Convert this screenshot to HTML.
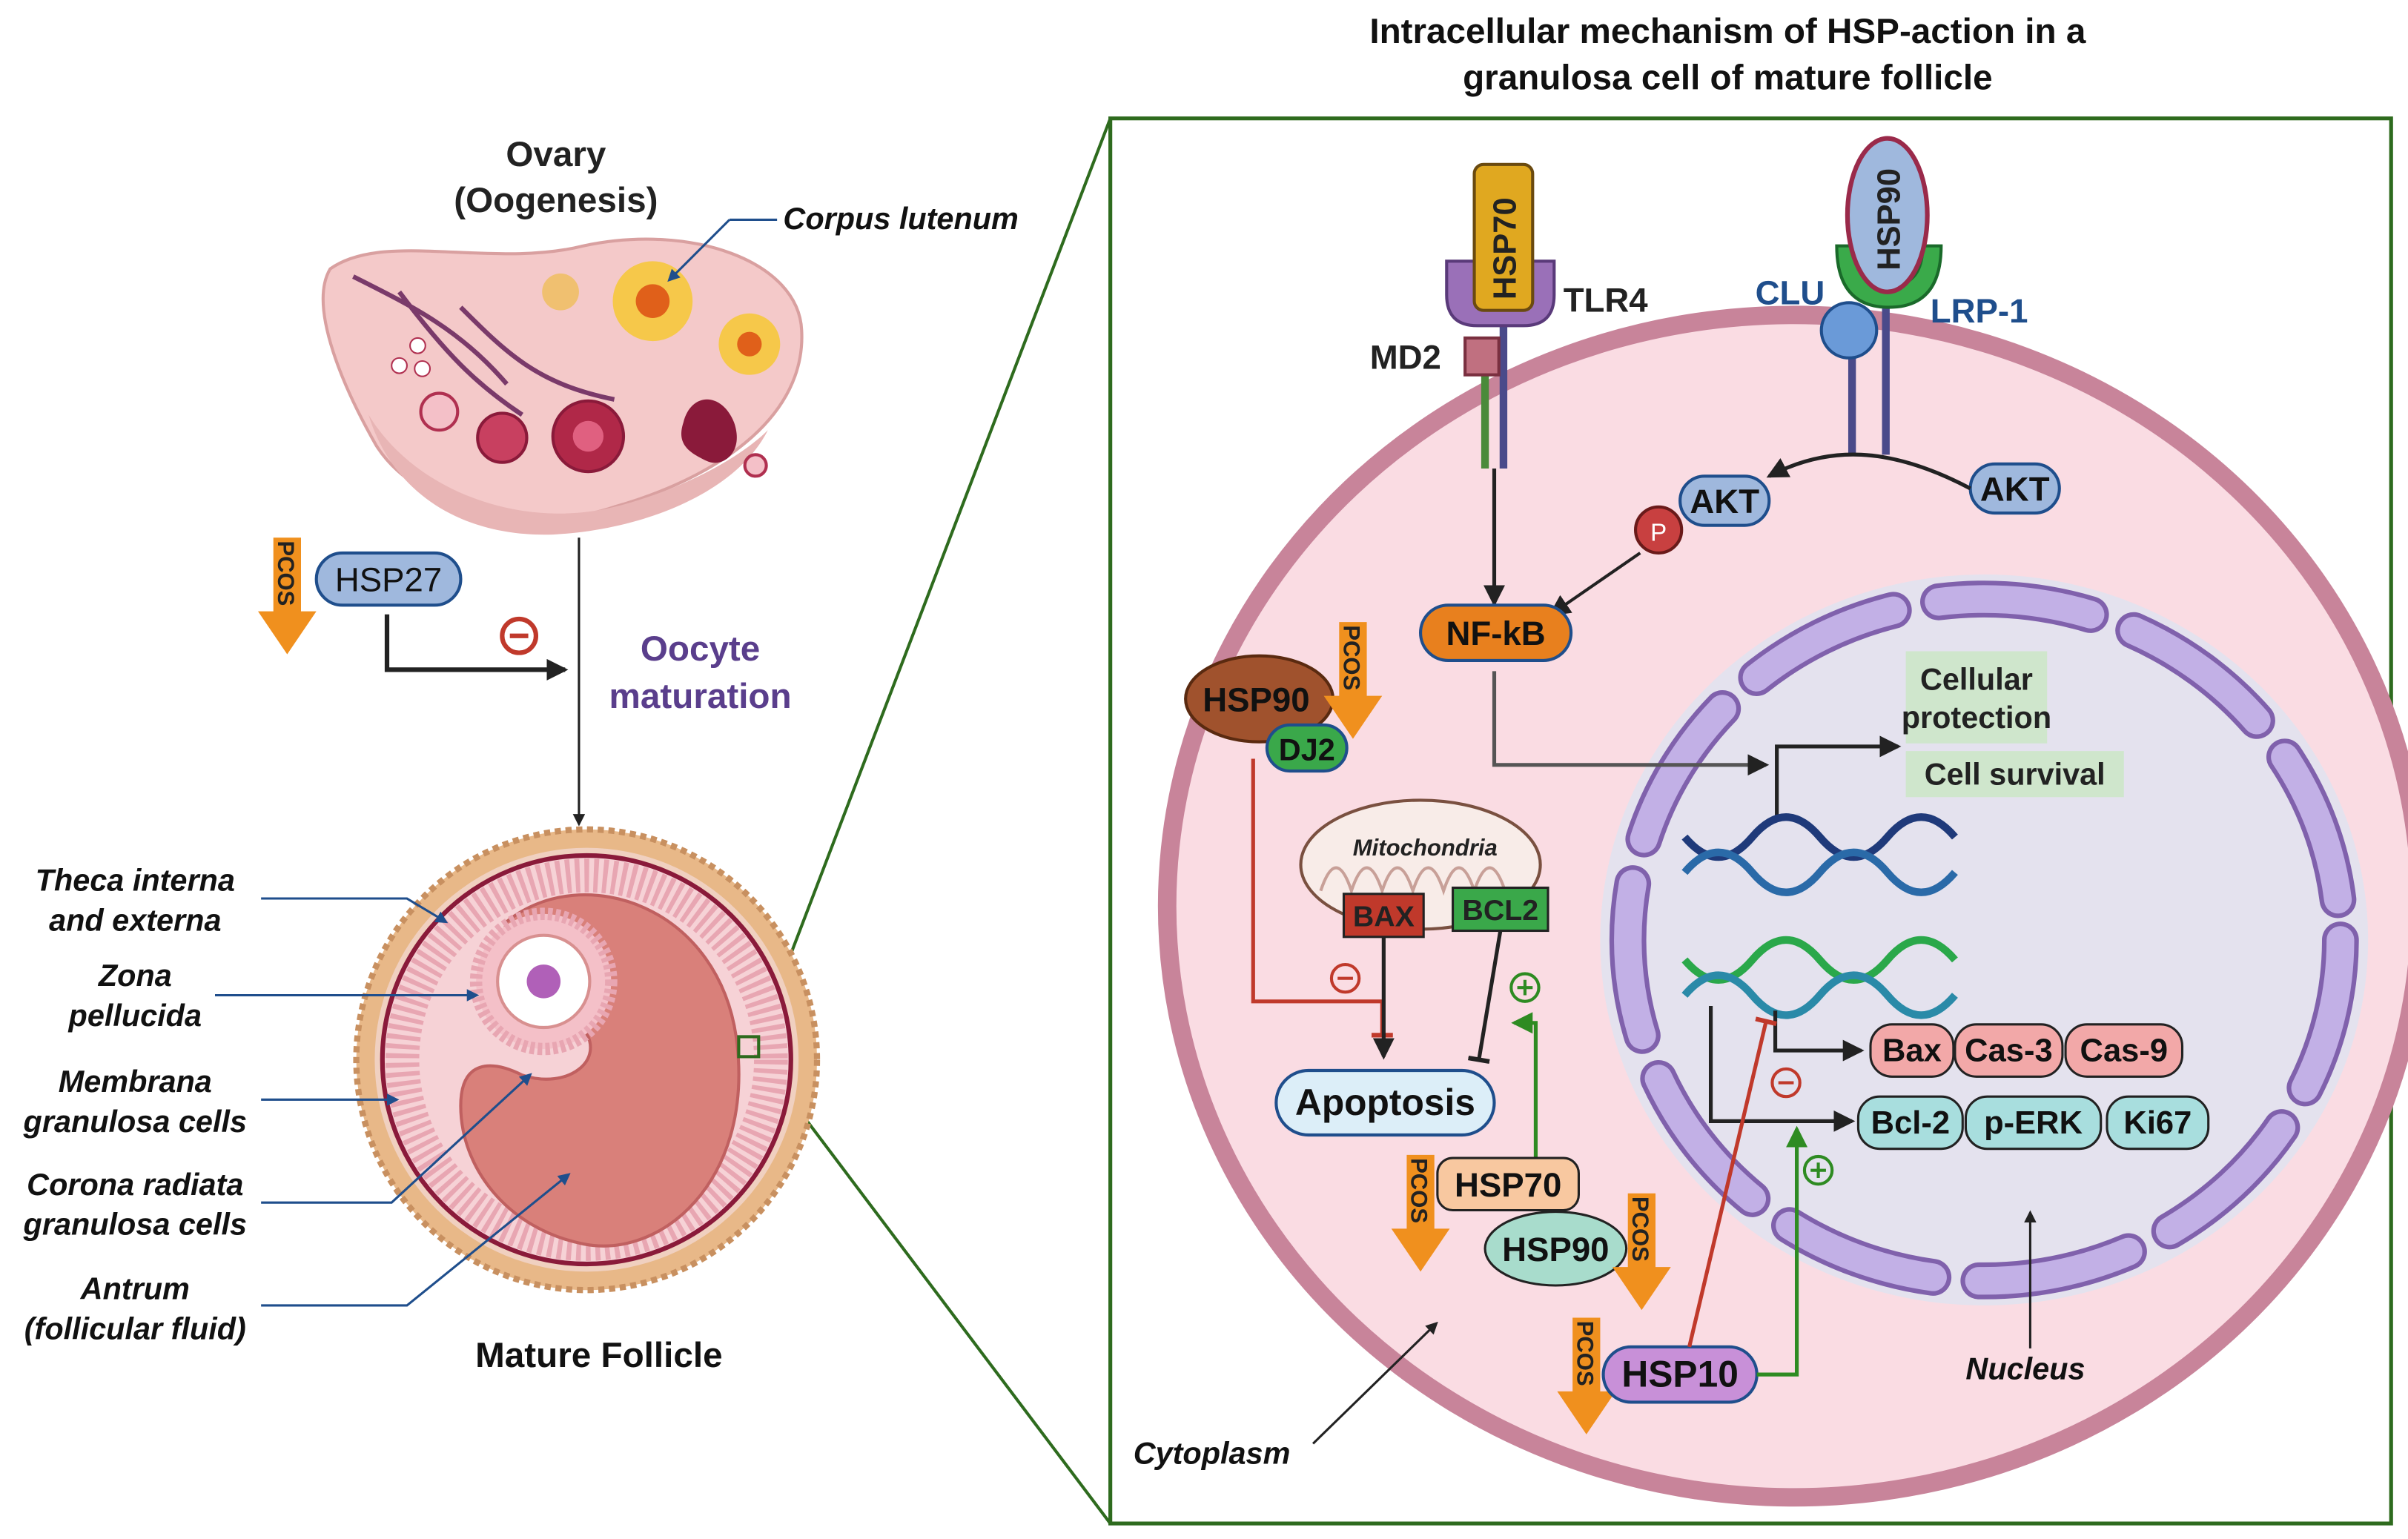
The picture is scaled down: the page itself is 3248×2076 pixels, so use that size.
<!DOCTYPE html>
<html><head><meta charset="utf-8"><style>
html,body{margin:0;padding:0;background:#fff}
svg{display:block}
text{font-family:"Liberation Sans",sans-serif;font-weight:bold}
</style></head><body>
<svg width="3248" height="2076" viewBox="0 0 1568 1002" xmlns="http://www.w3.org/2000/svg">
<defs>
<marker id="ab" markerWidth="8" markerHeight="8" refX="6" refY="4" orient="auto" markerUnits="userSpaceOnUse"><path d="M0,0 L8,4 L0,8 z" fill="#222"/></marker>
<marker id="abB" markerWidth="14" markerHeight="14" refX="12" refY="7" orient="auto" markerUnits="userSpaceOnUse"><path d="M0,0 L14,7 L0,14 z" fill="#222"/></marker>
<marker id="abG" markerWidth="14" markerHeight="14" refX="12" refY="7" orient="auto" markerUnits="userSpaceOnUse"><path d="M0,0 L14,7 L0,14 z" fill="#2e8b22"/></marker>
<marker id="tR" markerWidth="14" markerHeight="14" refX="7" refY="7" orient="auto" markerUnits="userSpaceOnUse"><path d="M7,0 L7,14" stroke="#c0392b" stroke-width="3"/></marker>
<marker id="tB" markerWidth="14" markerHeight="14" refX="7" refY="7" orient="auto" markerUnits="userSpaceOnUse"><path d="M7,0 L7,14" stroke="#222" stroke-width="3"/></marker>
<marker id="abT" markerWidth="8" markerHeight="8" refX="6" refY="4" orient="auto" markerUnits="userSpaceOnUse"><path d="M0,0 L8,4 L0,8 z" fill="#1f4e8c"/></marker>
</defs>

<text x="1125" y="28" font-size="23" text-anchor="middle" fill="#111">Intracellular mechanism of HSP-action in a</text>
<text x="1125" y="58" font-size="23" text-anchor="middle" fill="#111">granulosa cell of mature follicle</text>

<rect x="723" y="77" width="834" height="915" fill="none" stroke="#2e6b1e" stroke-width="2.5"/>
<line x1="494" y1="676" x2="723" y2="77" stroke="#2e6b1e" stroke-width="2"/>
<line x1="494" y1="688" x2="723" y2="992" stroke="#2e6b1e" stroke-width="2"/>

<text x="362" y="108" font-size="23" text-anchor="middle" fill="#222">Ovary</text>
<text x="362" y="138" font-size="23" text-anchor="middle" fill="#222">(Oogenesis)</text>
<path d="M215,175 C250,150 320,175 380,160 C450,145 520,170 522,215 C525,270 470,310 400,330 C340,350 270,330 245,290 C225,255 200,200 215,175z" fill="#f4c9c9" stroke="#d9a0a0" stroke-width="2"/>
<path d="M240,270 C270,320 340,345 400,330 C440,320 480,300 500,280 C480,320 420,345 360,348 C300,350 255,320 240,270z" fill="#e8b5b5"/>
<path d="M230,180 C270,200 300,215 330,250 M260,190 C290,230 310,250 340,270 M300,200 C330,230 350,250 400,260" stroke="#7a3a6a" stroke-width="3" fill="none"/>
<circle cx="425" cy="196" r="26" fill="#f6c84a"/><circle cx="425" cy="196" r="11" fill="#e0601a"/>
<circle cx="488" cy="224" r="20" fill="#f6c84a"/><circle cx="488" cy="224" r="8" fill="#e0601a"/>
<circle cx="365" cy="190" r="12" fill="#f0c070"/>
<circle cx="286" cy="268" r="12" fill="#f4c0c8" stroke="#b03050" stroke-width="2"/>
<circle cx="327" cy="285" r="16" fill="#c84060" stroke="#8a1a3a" stroke-width="2"/>
<circle cx="383" cy="284" r="23" fill="#b02848" stroke="#8a1a3a" stroke-width="2"/>
<circle cx="383" cy="284" r="10" fill="#e06080"/>
<path d="M445,275 C450,255 470,255 478,275 C485,295 470,305 460,300 C450,295 440,290 445,275z" fill="#8a1a3a"/>
<circle cx="492" cy="303" r="7" fill="#f4c0c8" stroke="#b03050" stroke-width="2"/>
<circle cx="260" cy="238" r="5" fill="#fff" stroke="#b03050"/><circle cx="272" cy="225" r="5" fill="#fff" stroke="#b03050"/><circle cx="275" cy="240" r="5" fill="#fff" stroke="#b03050"/>
<text x="510" y="149" font-size="20" font-style="italic" fill="#111">Corpus lutenum</text>
<line x1="506" y1="143" x2="475" y2="143" stroke="#1f4e8c" stroke-width="1.5"/>
<line x1="475" y1="143" x2="436" y2="182" stroke="#1f4e8c" stroke-width="1.5" marker-end="url(#abT)"/>

<path d="M178,350 h18 v48 h10 l-19,28 l-19,-28 h10 z" fill="#f0901e"/>
<text transform="translate(181,352) rotate(90)" font-size="15" fill="#222">PCOS</text>
<rect x="206" y="360" width="94" height="34" rx="17" fill="#9fb8dd" stroke="#1f4e8c" stroke-width="2"/>
<text x="253" y="385" font-size="22" text-anchor="middle" fill="#111" style="font-weight:normal">HSP27</text>
<path d="M252,400 V436 H368" stroke="#222" stroke-width="3" fill="none" marker-end="url(#abB)"/>
<circle cx="338" cy="414" r="11" fill="none" stroke="#c0392b" stroke-width="3"/><line x1="332" y1="414" x2="344" y2="414" stroke="#c0392b" stroke-width="3"/>
<line x1="377" y1="350" x2="377" y2="536" stroke="#222" stroke-width="1.5" marker-end="url(#ab)"/>
<text x="456" y="430" font-size="23" text-anchor="middle" fill="#5a3e8c">Oocyte</text>
<text x="456" y="461" font-size="23" text-anchor="middle" fill="#5a3e8c">maturation</text>

<circle cx="382" cy="690" r="150" fill="#e8b888" stroke="#c89060" stroke-width="4" stroke-dasharray="4 3"/>
<circle cx="382" cy="690" r="138" fill="#f0d0c0"/>
<circle cx="382" cy="690" r="133" fill="#f6d2d6" stroke="#8a1a3a" stroke-width="3"/>
<circle cx="382" cy="690" r="120" fill="none" stroke="#e8a6b2" stroke-width="22" stroke-dasharray="3 3"/>
<path d="M330,600 C380,560 470,590 480,680 C490,770 430,820 380,810 C330,800 300,760 300,720 C300,690 320,690 340,700 C370,710 395,690 380,670 C360,640 320,630 330,600z" fill="#d9807a" stroke="#c06060" stroke-width="2"/>
<circle cx="354" cy="639" r="44" fill="#f4c0c8" stroke="#e8a6b2" stroke-width="8" stroke-dasharray="3 2"/>
<circle cx="354" cy="639" r="30" fill="#fff" stroke="#d89090" stroke-width="2"/>
<circle cx="354" cy="639" r="11" fill="#b060b8"/>
<text x="390" y="890" font-size="23" text-anchor="middle" fill="#111">Mature Follicle</text>
<rect x="481" y="675" width="13" height="13" fill="none" stroke="#2e6b1e" stroke-width="2"/>

<g font-size="20" font-style="italic" fill="#111" text-anchor="middle">
<text x="88" y="580">Theca interna</text><text x="88" y="606">and externa</text>
<text x="88" y="642">Zona</text><text x="88" y="668">pellucida</text>
<text x="88" y="711">Membrana</text><text x="88" y="737">granulosa cells</text>
<text x="88" y="778">Corona radiata</text><text x="88" y="804">granulosa cells</text>
<text x="88" y="846">Antrum</text><text x="88" y="872">(follicular fluid)</text>
</g>
<g stroke="#1f4e8c" stroke-width="1.5" fill="none">
<path d="M170,585 H265 L290,600" marker-end="url(#abT)"/>
<path d="M140,648 H310" marker-end="url(#abT)"/>
<path d="M170,716 H258" marker-end="url(#abT)"/>
<path d="M170,783 H255 L345,700" marker-end="url(#abT)"/>
<path d="M170,850 H265 L370,765" marker-end="url(#abT)"/>
</g>

<ellipse cx="1168" cy="590" rx="408" ry="385" fill="#fadce3" stroke="#c8849a" stroke-width="12"/>
<ellipse cx="1292" cy="612" rx="250" ry="238" fill="#e4e2ee"/>
<ellipse cx="1292" cy="612" rx="232" ry="222" fill="none" stroke="#7a5aa8" stroke-width="24" stroke-dasharray="100 30" stroke-linecap="round" opacity="0.95"/>
<ellipse cx="1292" cy="612" rx="232" ry="222" fill="none" stroke="#c2b0e6" stroke-width="18" stroke-dasharray="100 30" stroke-linecap="round"/>

<line x1="967" y1="230" x2="967" y2="305" stroke="#4a8a3a" stroke-width="5"/>
<line x1="979" y1="200" x2="979" y2="305" stroke="#4a4a8a" stroke-width="5"/>
<path d="M942,170 h70 v22 q0,20 -20,20 h-30 q-20,0 -20,-20z" fill="#9a70b8" stroke="#5a3a7a" stroke-width="2"/>
<rect x="960" y="107" width="38" height="95" rx="6" fill="#e0a820" stroke="#6a4a10" stroke-width="2"/>
<text transform="translate(987,195) rotate(-90)" font-size="21" fill="#222">HSP70</text>
<rect x="954" y="220" width="22" height="24" fill="#c07080" stroke="#7a3040" stroke-width="2"/>
<text x="1018" y="203" font-size="22" fill="#222">TLR4</text>
<text x="892" y="240" font-size="22" fill="#222">MD2</text>

<line x1="1206" y1="230" x2="1206" y2="296" stroke="#4a4a8a" stroke-width="5"/>
<line x1="1228" y1="190" x2="1228" y2="296" stroke="#4a4a8a" stroke-width="5"/>
<path d="M1196,160 q0,40 34,40 q34,0 34,-40 h-12 q0,26 -22,26 q-22,0 -22,-26z" fill="#3aaa4a" stroke="#1a6a2a" stroke-width="2"/>
<ellipse cx="1229" cy="140" rx="26" ry="50" fill="#9fb8dd" stroke="#9a2a4a" stroke-width="3"/>
<text transform="translate(1237,176) rotate(-90)" font-size="21" fill="#222">HSP90</text>
<circle cx="1204" cy="215" r="18" fill="#6a9ad8" stroke="#1f4e8c" stroke-width="2"/>
<text x="1143" y="198" font-size="22" fill="#1f4e8c">CLU</text>
<text x="1257" y="210" font-size="22" fill="#1f4e8c">LRP-1</text>

<rect x="1283" y="302" width="58" height="32" rx="16" fill="#9fb8dd" stroke="#1f4e8c" stroke-width="2"/>
<text x="1312" y="326" font-size="22" text-anchor="middle" fill="#111">AKT</text>
<rect x="1094" y="310" width="58" height="32" rx="16" fill="#9fb8dd" stroke="#1f4e8c" stroke-width="2"/>
<text x="1123" y="334" font-size="22" text-anchor="middle" fill="#111">AKT</text>
<path d="M1283,318 C1230,290 1190,290 1152,310" stroke="#222" stroke-width="2.5" fill="none" marker-end="url(#abB)"/>
<circle cx="1080" cy="345" r="15" fill="#c84040" stroke="#6a1a1a" stroke-width="2"/>
<text x="1080" y="352" font-size="16" text-anchor="middle" fill="#fff" style="font-weight:normal">P</text>
<line x1="1068" y1="360" x2="1010" y2="400" stroke="#222" stroke-width="2" marker-end="url(#abB)"/>
<line x1="973" y1="305" x2="973" y2="393" stroke="#222" stroke-width="2.5" marker-end="url(#abB)"/>

<rect x="925" y="394" width="98" height="36" rx="18" fill="#e8801e" stroke="#1f4e8c" stroke-width="2"/>
<text x="974" y="420" font-size="22" text-anchor="middle" fill="#111">NF-kB</text>
<path d="M973,437 V498 H1150" stroke="#555" stroke-width="2.5" fill="none" marker-end="url(#abB)"/>
<path d="M1157,535 V486 H1236" stroke="#222" stroke-width="2.5" fill="none" marker-end="url(#abB)"/>
<rect x="1241" y="424" width="92" height="60" fill="#cfe6cc"/>
<text x="1287" y="449" font-size="20" text-anchor="middle" fill="#222">Cellular</text>
<text x="1287" y="474" font-size="20" text-anchor="middle" fill="#222">protection</text>
<rect x="1241" y="489" width="142" height="30" fill="#cfe6cc"/>
<text x="1312" y="511" font-size="20" text-anchor="middle" fill="#222">Cell survival</text>

<path d="M1097,545 q22,26 44,0 t44,0 t44,0 t44,0" stroke="#1f3a7a" stroke-width="5" fill="none"/>
<path d="M1097,568 q22,-26 44,0 t44,0 t44,0 t44,0" stroke="#2a6aa8" stroke-width="5" fill="none"/>
<path d="M1097,625 q22,26 44,0 t44,0 t44,0 t44,0" stroke="#2aa84a" stroke-width="5" fill="none"/>
<path d="M1097,648 q22,-26 44,0 t44,0 t44,0 t44,0" stroke="#2a8aa8" stroke-width="5" fill="none"/>

<path d="M1156,658 V684 H1212" stroke="#222" stroke-width="2.5" fill="none" marker-end="url(#abB)"/>
<path d="M1114,655 V730 H1206" stroke="#222" stroke-width="2.5" fill="none" marker-end="url(#abB)"/>
<g font-size="21" text-anchor="middle" fill="#111">
<rect x="1218" y="667" width="54" height="34" rx="14" fill="#f2a8a8" stroke="#222" stroke-width="1.5"/><text x="1245" y="691">Bax</text>
<rect x="1273" y="667" width="70" height="34" rx="14" fill="#f2a8a8" stroke="#222" stroke-width="1.5"/><text x="1308" y="691">Cas-3</text>
<rect x="1345" y="667" width="76" height="34" rx="14" fill="#f2a8a8" stroke="#222" stroke-width="1.5"/><text x="1383" y="691">Cas-9</text>
<rect x="1210" y="714" width="68" height="34" rx="14" fill="#a8dede" stroke="#222" stroke-width="1.5"/><text x="1244" y="738">Bcl-2</text>
<rect x="1280" y="714" width="88" height="34" rx="14" fill="#a8dede" stroke="#222" stroke-width="1.5"/><text x="1324" y="738">p-ERK</text>
<rect x="1372" y="714" width="66" height="34" rx="14" fill="#a8dede" stroke="#222" stroke-width="1.5"/><text x="1405" y="738">Ki67</text>
</g>

<ellipse cx="820" cy="455" rx="48" ry="28" fill="#a0522d" stroke="#5a2a10" stroke-width="2"/>
<text x="818" y="463" font-size="22" text-anchor="middle" fill="#111">HSP90</text>
<rect x="825" y="472" width="52" height="30" rx="15" fill="#3aa84a" stroke="#1f4e8c" stroke-width="2"/>
<text x="851" y="495" font-size="20" text-anchor="middle" fill="#111">DJ2</text>
<path d="M872,405 h18 v48 h10 l-19,28 l-19,-28 h10 z" fill="#f0901e"/>
<text transform="translate(875,407) rotate(90)" font-size="15" fill="#222">PCOS</text>
<path d="M816,494 V652 H900 V674" stroke="#c0392b" stroke-width="2.5" fill="none" marker-end="url(#tR)"/>
<circle cx="876" cy="637" r="9" fill="none" stroke="#c0392b" stroke-width="2"/><line x1="871" y1="637" x2="881" y2="637" stroke="#c0392b" stroke-width="2"/>

<ellipse cx="925" cy="563" rx="78" ry="42" fill="#f8ece8" stroke="#7a5040" stroke-width="2"/>
<path d="M860,580 q10,-30 20,0 q10,-30 20,0 q10,-30 20,0 q10,-30 20,0 q10,-30 20,0 q10,-30 20,0" stroke="#c8a098" stroke-width="2" fill="none"/>
<text x="928" y="557" font-size="15" font-style="italic" text-anchor="middle" fill="#222">Mitochondria</text>
<rect x="875" y="582" width="52" height="28" fill="#c0392b" stroke="#222" stroke-width="1.5"/>
<text x="901" y="603" font-size="19" text-anchor="middle" fill="#222">BAX</text>
<rect x="946" y="578" width="62" height="28" fill="#3aa84a" stroke="#222" stroke-width="1.5"/>
<text x="977" y="599" font-size="19" text-anchor="middle" fill="#222">BCL2</text>
<line x1="901" y1="610" x2="901" y2="688" stroke="#222" stroke-width="2.5" marker-end="url(#abB)"/>
<line x1="977" y1="606" x2="963" y2="690" stroke="#222" stroke-width="2.5" marker-end="url(#tB)"/>

<rect x="831" y="697" width="142" height="42" rx="21" fill="#dceef8" stroke="#1f4e8c" stroke-width="2"/>
<text x="902" y="726" font-size="24" text-anchor="middle" fill="#111">Apoptosis</text>
<path d="M1000,766 V666 H986" stroke="#2e8b22" stroke-width="2.5" fill="none" marker-end="url(#abG)"/>
<circle cx="993" cy="643" r="9" fill="none" stroke="#2e8b22" stroke-width="2"/><path d="M988,643 h10 M993,638 v10" stroke="#2e8b22" stroke-width="2"/>

<path d="M916,752 h18 v48 h10 l-19,28 l-19,-28 h10 z" fill="#f0901e"/>
<text transform="translate(919,754) rotate(90)" font-size="15" fill="#222">PCOS</text>
<rect x="936" y="754" width="92" height="34" rx="10" fill="#f8c8a0" stroke="#222" stroke-width="1.5"/>
<text x="982" y="779" font-size="22" text-anchor="middle" fill="#111">HSP70</text>
<ellipse cx="1013" cy="813" rx="46" ry="24" fill="#a8dccc" stroke="#222" stroke-width="1.5"/>
<text x="1013" y="821" font-size="22" text-anchor="middle" fill="#111">HSP90</text>
<path d="M1060,777 h18 v48 h10 l-19,28 l-19,-28 h10 z" fill="#f0901e"/>
<text transform="translate(1063,779) rotate(90)" font-size="15" fill="#222">PCOS</text>

<path d="M1024,858 h18 v48 h10 l-19,28 l-19,-28 h10 z" fill="#f0901e"/>
<text transform="translate(1027,860) rotate(90)" font-size="15" fill="#222">PCOS</text>
<rect x="1044" y="877" width="100" height="36" rx="18" fill="#c890d8" stroke="#1f4e8c" stroke-width="2"/>
<text x="1094" y="903" font-size="24" text-anchor="middle" fill="#111">HSP10</text>
<line x1="1100" y1="877" x2="1150" y2="665" stroke="#c0392b" stroke-width="2.5" marker-end="url(#tR)"/>
<circle cx="1163" cy="705" r="9" fill="none" stroke="#c0392b" stroke-width="2"/><line x1="1158" y1="705" x2="1168" y2="705" stroke="#c0392b" stroke-width="2"/>
<path d="M1144,895 H1170 V735" stroke="#2e8b22" stroke-width="2.5" fill="none" marker-end="url(#abG)"/>
<circle cx="1184" cy="762" r="9" fill="none" stroke="#2e8b22" stroke-width="2"/><path d="M1179,762 h10 M1184,757 v10" stroke="#2e8b22" stroke-width="2"/>

<text x="1280" y="898" font-size="20" font-style="italic" fill="#111">Nucleus</text>
<line x1="1322" y1="878" x2="1322" y2="790" stroke="#222" stroke-width="1.5" marker-end="url(#ab)"/>
<text x="738" y="953" font-size="20" font-style="italic" fill="#111">Cytoplasm</text>
<line x1="855" y1="940" x2="935" y2="862" stroke="#222" stroke-width="1.5" marker-end="url(#ab)"/>
</svg>
</body></html>
